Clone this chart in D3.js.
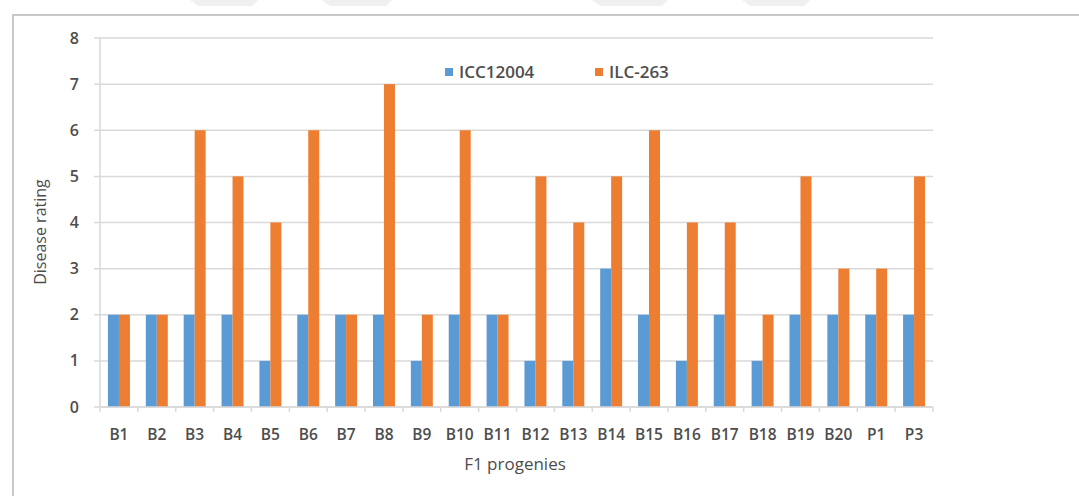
<!DOCTYPE html>
<html>
<head>
<meta charset="utf-8">
<script src="https://cdn.jsdelivr.net/npm/d3@7"></script>
<style>
  body { margin: 0; background: #fff; }
  text { font-family: "Open Sans", "Liberation Sans", sans-serif; fill: #4d4d4d; }
</style>
</head>
<body>
<div id="chart"></div>
<script>
// progenies and ratings
const categories = ["B1","B2","B3","B4","B5","B6","B7","B8","B9","B10","B11","B12","B13","B14","B15","B16","B17","B18","B19","B20","P1","P3"];
const icc12004 = [2,2,2,2,1,2,2,2,1,2,2,1,1,3,2,1,2,1,2,2,2,2];
const ilc263 = [2,2,6,5,4,6,2,7,2,6,2,5,4,5,6,4,4,2,5,3,3,5];
const seriesNames = ["ICC12004", "ILC-263"];
const yTicks = [0,1,2,3,4,5,6,7,8];

const colors = ["#5B9BD5", "#ED7D31"];
const width = 1079, height = 496;
const margin = {left: 100, right: 146, top: 38, bottom: 89};

const svg = d3.select("#chart")
  .append("svg")
  .attr("width", width)
  .attr("height", height);

// faint watermark shapes along the top
[[190, 258], [322, 392], [592, 668], [742, 810]].forEach(([a, b]) => {
  svg.append("polygon")
    .attr("points", `${a},0 ${b},0 ${b - 6},6 ${a + 8},6`)
    .attr("fill", "#f0f0f0");
});

// outer frame
svg.append("path")
  .attr("d", `M13,${height} V15 H${width}`)
  .attr("fill", "none")
  .attr("stroke", "#c8c8c8")
  .attr("stroke-width", 2);

const x0 = d3.scaleBand()
  .domain(categories)
  .range([margin.left, width - margin.right])
  .paddingInner(0.42)
  .paddingOuter(0.21);

const x1 = d3.scaleBand()
  .domain(seriesNames)
  .range([0, x0.bandwidth()]);

const y = d3.scaleLinear()
  .domain([0, 8])
  .range([height - margin.bottom, margin.top]);

// gridlines
svg.append("g")
  .selectAll("line")
  .data(yTicks)
  .enter()
  .append("line")
  .attr("x1", margin.left - 6)
  .attr("x2", width - margin.right)
  .attr("y1", d => y(d))
  .attr("y2", d => y(d))
  .attr("stroke", "#d9d9d9")
  .attr("stroke-width", 1.5);

// y axis line
svg.append("line")
  .attr("x1", margin.left).attr("x2", margin.left)
  .attr("y1", y(8)).attr("y2", y(0))
  .attr("stroke", "#d9d9d9")
  .attr("stroke-width", 1.5);

// y labels
svg.append("g")
  .selectAll("text")
  .data(yTicks)
  .enter()
  .append("text")
  .attr("x", 79)
  .attr("y", d => y(d))
  .attr("dy", ".35em")
  .attr("text-anchor", "end")
  .style("font-size", "16px")
  .style("font-weight", "600")
  .text(d => d);

// bars
const groups = svg.append("g")
  .selectAll("g")
  .data(categories)
  .enter()
  .append("g")
  .attr("transform", d => `translate(${x0(d)},0)`);

groups.selectAll("rect")
  .data((d, i) => [icc12004[i], ilc263[i]].map((v, k) => ({name: seriesNames[k], value: v})))
  .enter()
  .append("rect")
  .attr("x", d => x1(d.name))
  .attr("width", x1.bandwidth())
  .attr("y", d => y(d.value))
  .attr("height", d => y(0) - y(d.value))
  .attr("fill", (d, k) => colors[k]);

// x axis line and ticks
const step = x0.step();
svg.append("line")
  .attr("x1", margin.left).attr("x2", width - margin.right)
  .attr("y1", y(0)).attr("y2", y(0))
  .attr("stroke", "#d9d9d9")
  .attr("stroke-width", 1.5);

svg.append("g")
  .selectAll("line")
  .data(d3.range(categories.length + 1))
  .enter()
  .append("line")
  .attr("x1", i => margin.left + i * step)
  .attr("x2", i => margin.left + i * step)
  .attr("y1", y(0))
  .attr("y2", y(0) + 5)
  .attr("stroke", "#d9d9d9")
  .attr("stroke-width", 1.5);

// x labels
svg.append("g")
  .selectAll("text")
  .data(categories)
  .enter()
  .append("text")
  .attr("x", d => x0(d) + x0.bandwidth() / 2)
  .attr("y", y(0) + 28)
  .attr("dy", ".35em")
  .attr("text-anchor", "middle")
  .style("font-size", "15.5px")
  .style("font-weight", "600")
  .text(d => d);

// axis titles
svg.append("text")
  .attr("x", 515)
  .attr("y", 470)
  .attr("text-anchor", "middle")
  .style("font-size", "17px")
  .text("F1 progenies");

svg.append("text")
  .attr("transform", "translate(46,232) rotate(-90)")
  .attr("text-anchor", "middle")
  .style("font-size", "16px")
  .text("Disease rating");

// legend
const legendX = [445, 595];
seriesNames.forEach((name, k) => {
  svg.append("rect")
    .attr("x", legendX[k])
    .attr("y", 68)
    .attr("width", 8)
    .attr("height", 8)
    .attr("fill", colors[k]);
  svg.append("text")
    .attr("x", legendX[k] + 14)
    .attr("y", 72)
    .attr("dy", ".35em")
    .style("font-size", "17px")
    .style("font-weight", "600")
    .text(name);
});
</script>
</body>
</html>
